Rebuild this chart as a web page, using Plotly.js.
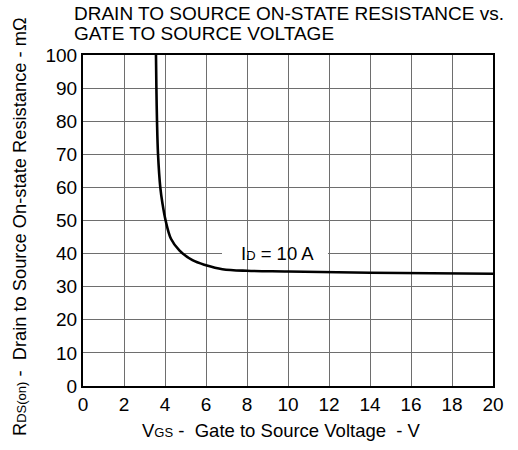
<!DOCTYPE html>
<html>
<head>
<meta charset="utf-8">
<script src="https://cdn.plot.ly/plotly-3.0.1.min.js"></script>
<style>html,body{margin:0;padding:0;background:#fff;}#chart{width:518px;height:450px;}</style>
</head>
<body>
<div id="chart"></div>
<script>
// Data (VGS in V, RDS(on) in mOhm, ID = 10 A)
const vgs = [3.56, 3.58, 3.61, 3.66, 3.77, 3.88, 4.03, 4.29, 4.7, 5.34, 6.0, 6.8, 8.0, 10.0, 14.0, 20.0];
const rds = [100, 90, 80, 70, 60, 55, 50, 44.5, 41, 38, 36.5, 35.3, 34.8, 34.6, 34.2, 33.9];
const xTicks = [0, 2, 4, 6, 8, 10, 12, 14, 16, 18, 20];
const yTicks = [0, 10, 20, 30, 40, 50, 60, 70, 80, 90, 100];
const titleLines = ['DRAIN TO SOURCE ON-STATE RESISTANCE vs.', 'GATE TO SOURCE VOLTAGE'];
const xTitle = 'V<span style="font-size:13px">GS</span> -  Gate to Source Voltage  - V';
const yTitle = 'R<span style="font-size:13px">DS(on)</span> -  Drain to Source On-state Resistance - mΩ';
const curveLabel = 'I<span style="font-size:13px">D</span> = 10 A';
const labelX = 9.5, labelY = 40;

const fam = '"Liberation Sans", Arial, Helvetica, sans-serif';
const f = (s) => ({family: fam, color: '#000', size: s});

const trace = {
  x: vgs, y: rds, type: 'scatter', mode: 'lines',
  line: {color: '#000', width: 2.6, shape: 'spline', smoothing: 1},
  hoverinfo: 'skip', showlegend: false
};

const layout = {
  width: 518, height: 450,
  margin: {l: 83, r: 25, t: 55, b: 64},
  paper_bgcolor: '#fff', plot_bgcolor: '#fff',
  font: f(18.5),
  xaxis: {
    range: [0, 20], tickvals: xTicks, ticktext: xTicks.map(String),
    showgrid: true, gridcolor: '#6e6e6e', gridwidth: 1,
    showline: true, linecolor: '#000', linewidth: 2, mirror: true,
    ticks: '', zeroline: false, fixedrange: true,
    tickfont: f(19)
  },
  yaxis: {
    range: [0, 100], tickvals: yTicks, ticktext: yTicks.map(String),
    showgrid: true, gridcolor: '#6e6e6e', gridwidth: 1,
    showline: true, linecolor: '#000', linewidth: 2, mirror: true,
    ticks: '', zeroline: false, fixedrange: true,
    tickfont: f(19)
  },
  shapes: [{
    type: 'line', layer: 'between', xref: 'x', yref: 'y',
    x0: 6.78, x1: 11.95, y0: labelY, y1: labelY,
    line: {color: '#fff', width: 3}
  }],
  annotations: [
    {x: -0.027, y: 1.124, xref: 'paper', yref: 'paper', text: titleLines[0], showarrow: false,
     xanchor: 'left', yanchor: 'middle', font: f(19)},
    {x: -0.027, y: 1.066, xref: 'paper', yref: 'paper', text: titleLines[1], showarrow: false,
     xanchor: 'left', yanchor: 'middle', font: f(19)},
    {x: 0.483, y: -0.133, xref: 'paper', yref: 'paper', text: xTitle, showarrow: false,
     xanchor: 'center', yanchor: 'middle', font: f(18.5)},
    {x: -0.1537, y: 0.4834, xref: 'paper', yref: 'paper', text: yTitle, showarrow: false,
     textangle: -90, xanchor: 'center', yanchor: 'middle', font: f(18.3)},
    {x: labelX, y: labelY, xref: 'x', yref: 'y', text: curveLabel, showarrow: false,
     xanchor: 'center', yanchor: 'middle', font: f(18.5)}
  ]
};

Plotly.newPlot('chart', [trace], layout, {displayModeBar: false, staticPlot: true});
</script>
</body>
</html>
